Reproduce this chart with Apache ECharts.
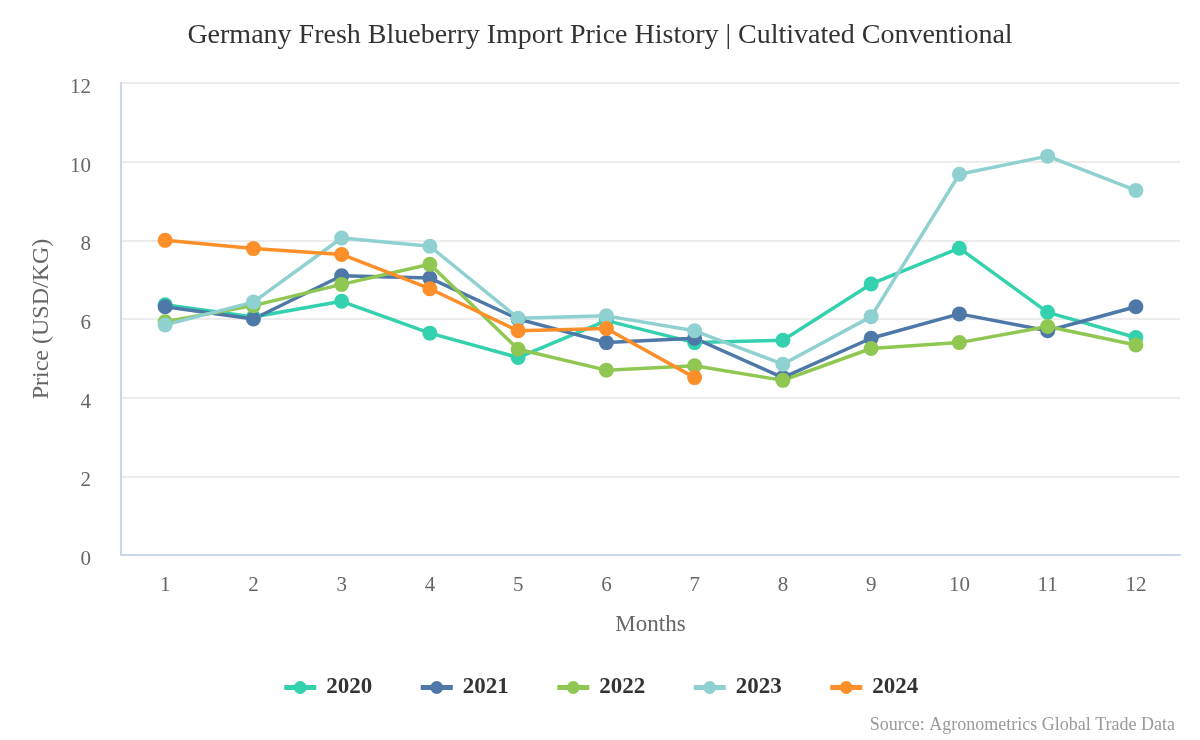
<!DOCTYPE html>
<html>
<head>
<meta charset="utf-8">
<script src="https://cdn.jsdelivr.net/npm/echarts@6/dist/echarts.min.js"></script>
<style>
  html, body { margin: 0; padding: 0; background: #fff; }
  #chart { width: 1200px; height: 740px; }
</style>
</head>
<body>
<div id="chart"></div>
<script>
var months = ['1', '2', '3', '4', '5', '6', '7', '8', '9', '10', '11', '12'];
var years = ['2020', '2021', '2022', '2023', '2024'];
var colors = ['#33d1ad', '#4d78a8', '#8fc752', '#8fd0d0', '#fd8f2b'];

var price2020 = [6.36, 6.05, 6.45, 5.64, 5.02, 5.96, 5.40, 5.46, 6.89, 7.80, 6.17, 5.53];
var price2021 = [6.31, 6.00, 7.10, 7.04, 6.00, 5.40, 5.51, 4.51, 5.51, 6.13, 5.70, 6.31];
var price2022 = [5.93, 6.34, 6.88, 7.39, 5.23, 4.70, 4.81, 4.44, 5.25, 5.40, 5.81, 5.34];
var price2023 = [5.85, 6.43, 8.06, 7.85, 6.02, 6.08, 5.70, 4.85, 6.06, 9.68, 10.14, 9.27];
var price2024 = [8.00, 7.79, 7.64, 6.77, 5.70, 5.76, 4.51];

var yearData = [price2020, price2021, price2022, price2023, price2024];

var myChart = echarts.init(document.getElementById('chart'));

var serif = '"Liberation Serif", "DejaVu Serif", serif';

var option = {
  color: colors,
  title: [{
    text: 'Germany Fresh Blueberry Import Price History | Cultivated Conventional',
    left: 'center',
    top: 17,
    textStyle: { fontFamily: serif, fontSize: 28, fontWeight: 'normal', color: '#333' }
  }, {
    text: 'Source: Agronometrics Global Trade Data',
    right: 20,
    top: 711,
    textStyle: { fontFamily: serif, fontSize: 18, fontWeight: 'normal', color: '#999' }
  }],
  legend: {
    data: years,
    top: 671,
    left: 'center',
    itemGap: 46,
    itemWidth: 32,
    itemHeight: 16,
    lineStyle: { width: 5 },
    textStyle: { fontFamily: serif, fontSize: 23, fontWeight: 'bold', color: '#333', padding: [0, 0, 0, 5] }
  },
  grid: { left: 121, right: 20, top: 83, bottom: 185 },
  xAxis: {
    type: 'category',
    data: months,
    name: 'Months',
    nameLocation: 'middle',
    nameGap: 58,
    nameTextStyle: { fontFamily: serif, fontSize: 23, color: '#666' },
    axisLine: { lineStyle: { color: '#ccd6eb', width: 2 } },
    axisTick: { show: false },
    axisLabel: { fontFamily: serif, fontSize: 21, color: '#666', margin: 20 }
  },
  yAxis: {
    type: 'value',
    min: 0,
    max: 12,
    interval: 2,
    name: 'Price (USD/KG)',
    nameLocation: 'middle',
    nameGap: 67,
    nameTextStyle: { fontFamily: serif, fontSize: 24, color: '#666' },
    axisLine: { show: true, lineStyle: { color: '#ccd6eb', width: 2 } },
    axisTick: { show: false },
    axisLabel: {
      margin: 30,
      formatter: '{v|{value}}',
      rich: { v: { fontFamily: serif, fontSize: 21, color: '#666', padding: [9, 0, 0, 0] } }
    },
    splitLine: { lineStyle: { color: '#e6e6e6', width: 1.5 } }
  },
  series: years.map(function (y, i) {
    return {
      name: y,
      type: 'line',
      data: yearData[i],
      symbol: 'circle',
      symbolSize: 15,
      lineStyle: { width: 3.5 },
      emphasis: { disabled: true }
    };
  })
};

myChart.setOption(option);
</script>
</body>
</html>
